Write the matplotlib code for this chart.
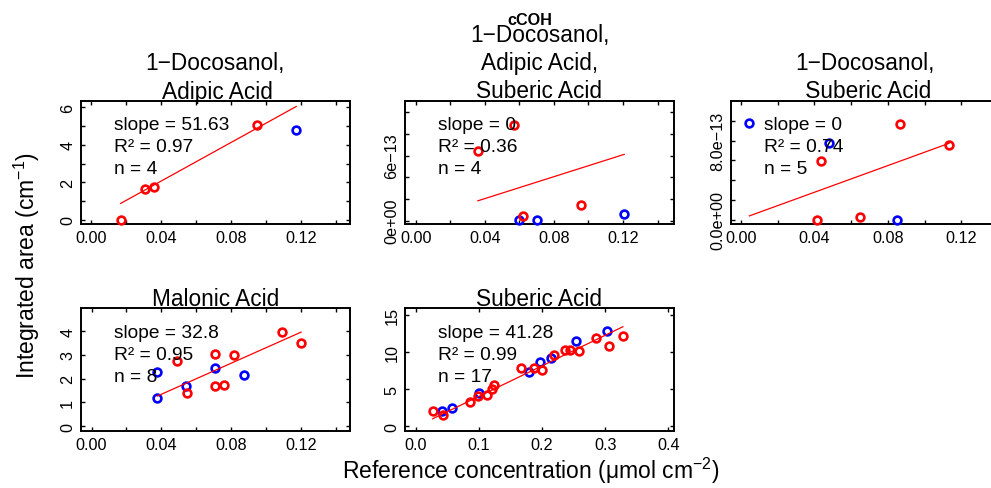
import matplotlib
matplotlib.use("Agg")
import matplotlib.pyplot as plt
import numpy as np

plt.rcParams['font.family'] = ['Liberation Sans', 'DejaVu Sans']
plt.rcParams['mathtext.fontset'] = 'custom'
plt.rcParams['mathtext.rm'] = 'Liberation Sans'
plt.rcParams['mathtext.it'] = 'Liberation Sans:italic'
plt.rcParams['mathtext.bf'] = 'Liberation Sans:bold'

# ---------------- data ----------------
main_title = "cCOH"
panel_titles = [
    ["1\u2212Docosanol,", " Adipic Acid"],
    ["1\u2212Docosanol,", "Adipic Acid,", "Suberic Acid"],
    ["1\u2212Docosanol,", " Suberic Acid"],
    ["Malonic Acid"],
    ["Suberic Acid"],
]

p1_red_x = [0.0170, 0.0311, 0.0363, 0.0949]
p1_red_y = [0.00, 1.64, 1.76, 5.07]
p1_blue_x = [0.1173]
p1_blue_y = [4.81]

p2_red_x = [0.0360, 0.0570, 0.0620, 0.0957]
p2_red_y = [6.45e-13, 8.85e-13, 0.40e-13, 1.42e-13]
p2_blue_x = [0.0595, 0.0700, 0.1207]
p2_blue_y = [0.10e-13, 0.10e-13, 0.60e-13]

p3_red_x = [0.0436, 0.0865, 0.1133, 0.0416, 0.0651]
p3_red_y = [5.93e-13, 9.69e-13, 7.56e-13, 0.03e-13, 0.30e-13]
p3_blue_x = [0.0047, 0.0482, 0.0847]
p3_blue_y = [9.76e-13, 7.80e-13, 0.03e-13]

p4_red_x = [0.0488, 0.0706, 0.0817, 0.0706, 0.0761, 0.0546, 0.1090, 0.1200]
p4_red_y = [2.73, 3.02, 3.00, 1.68, 1.74, 1.40, 3.99, 3.50]
p4_blue_x = [0.0377, 0.0377, 0.0542, 0.0706, 0.0871]
p4_blue_y = [2.28, 1.19, 1.70, 2.45, 2.14]

p5_red_x = [0.0268, 0.0427, 0.0858, 0.0980, 0.1130, 0.1200, 0.1240, 0.1660,
            0.1880, 0.2000, 0.2190, 0.2370, 0.2450, 0.2580, 0.2860, 0.3060, 0.3280]
p5_red_y = [2.14, 1.55, 3.27, 4.08, 4.30, 5.07, 5.61, 7.91,
            7.91, 7.64, 9.70, 10.38, 10.34, 10.24, 11.96, 10.92, 12.19]
p5_blue_x = [0.0410, 0.0569, 0.1000, 0.1800, 0.1960, 0.2150, 0.2540, 0.3030]
p5_blue_y = [2.14, 2.50, 4.49, 7.41, 8.68, 9.22, 11.59, 12.86]

red_x = [p1_red_x, p2_red_x, p3_red_x, p4_red_x, p5_red_x]
red_y = [p1_red_y, p2_red_y, p3_red_y, p4_red_y, p5_red_y]
blue_x = [p1_blue_x, p2_blue_x, p3_blue_x, p4_blue_x, p5_blue_x]
blue_y = [p1_blue_y, p2_blue_y, p3_blue_y, p4_blue_y, p5_blue_y]

fit_slope = [51.63, 5.05e-12, 6.74e-12, 32.8, 41.28]
fit_intercept = [-0.0093, 0.02e-13, 0.093e-13, 0.029, -0.063]

slope_labels = ["51.63", "0", "0", "32.8", "41.28"]
r2_labels = ["0.97", "0.36", "0.74", "0.95", "0.99"]
n_labels = ["4", "4", "5", "8", "17"]

y_label = r"Integrated area ($\mathrm{cm}^{-1}$)"
x_label = "Reference concentration (\u03bcmol $\\mathrm{cm}^{-2}$)"

# ---------------- layout ----------------
W, H = 991, 489
fig = plt.figure(figsize=(W / 100, H / 100), dpi=100)

boxes = [  # left, top, right, bottom in pixels
    (80.7, 102, 350, 225),
    (405, 102, 674, 225),
    (730.7, 102, 1000, 225),
    (80.7, 309.3, 350, 432),
    (405, 309.3, 674, 432),
]
xlims = [(-0.0058, 0.148), (-0.0062, 0.1495), (-0.0055, 0.141),
         (-0.0062, 0.148), (-0.017, 0.409)]
ylims = [(-0.23, 6.34), (-0.3e-13, 11.03e-13), (-0.41e-13, 12.0e-13),
         (-0.21, 4.97), (-0.61, 15.97)]

xticks = [np.arange(0, 0.1401, 0.02)] * 4 + [np.arange(0, 0.41, 0.1)]
xticklabels = [["0.00", "", "0.04", "", "0.08", "", "0.12", ""]] * 4 + \
              [["0.0", "0.1", "0.2", "0.3", "0.4"]]
yticks = [np.arange(0, 6.1, 1),
          np.arange(0, 10.1e-13, 2e-13),
          np.arange(0, 10.1e-13, 2e-13),
          np.arange(0, 4.1, 1),
          np.arange(0, 15.1, 5)]
yticklabels = [["0", "", "2", "", "4", "", "6"],
               ["0e+00", "", "", "6e\u221213", "", ""],
               ["0.0e+00", "", "", "", "8.0e\u221213", ""],
               ["0", "1", "2", "3", "4"],
               ["0", "5", "10", "15"]]

RED = "#FF0000"
BLUE = "#0000FF"
title_fs = 16.3
tick_fs = 11.7
leg_fs = 13.8
lab_fs = 16.5

for i, (l, t, r, b) in enumerate(boxes):
    ax = fig.add_axes([l / W, 1 - b / H, (r - l) / W, (b - t) / H])
    ax.set_xlim(*xlims[i])
    ax.set_ylim(*ylims[i])
    ax.plot(blue_x[i], blue_y[i], 'o', mfc='none', mec=BLUE, ms=5.6, mew=1.9,
            clip_on=False, zorder=3)
    ax.plot(red_x[i], red_y[i], 'o', mfc='none', mec=RED, ms=5.6, mew=1.9,
            clip_on=False, zorder=3)
    allx = np.array(list(red_x[i]) + list(blue_x[i]))
    xs = np.array([allx.min(), allx.max()])
    ax.plot(xs, fit_intercept[i] + fit_slope[i] * xs, color=RED, lw=0.9, zorder=4)

    ax.set_xticks(xticks[i])
    ax.set_xticklabels(xticklabels[i], fontsize=tick_fs)
    ax.set_yticks(yticks[i])
    ax.set_yticklabels(yticklabels[i], fontsize=tick_fs, rotation=90, va='center')
    ax.tick_params(direction='in', top=True, right=True, length=3, width=1,
                   pad=4, colors='black')
    for sp in ax.spines.values():
        sp.set_linewidth(1.4)

    lines = ["slope = " + slope_labels[i], "R\u00b2 = " + r2_labels[i],
             "n = " + n_labels[i]]
    for k, s in enumerate(lines):
        ax.annotate(s, xy=(0, 1), xycoords='axes fraction',
                    xytext=(33, -24 - 22 * k), textcoords='offset pixels',
                    ha='left', va='center', fontsize=leg_fs, zorder=6)

    tl = panel_titles[i]
    for k, s in enumerate(reversed(tl)):
        ax.annotate(s, xy=(0.5, 1), xycoords='axes fraction',
                    xytext=(0, 3.5 + 28.4 * k), textcoords='offset pixels',
                    ha='center', va='baseline', fontsize=title_fs,
                    annotation_clip=False)

fig.text(530 / W, 1 - 25 / H, main_title, ha='center', va='baseline',
         fontsize=11.7, fontweight='bold')
fig.text(27 / W, 1 - 266 / H, y_label, ha='center', va='center',
         rotation=90, fontsize=lab_fs)
fig.text(531 / W, 1 - 471 / H, x_label, ha='center', va='center',
         fontsize=lab_fs)

fig.savefig("out.png", dpi=100)
